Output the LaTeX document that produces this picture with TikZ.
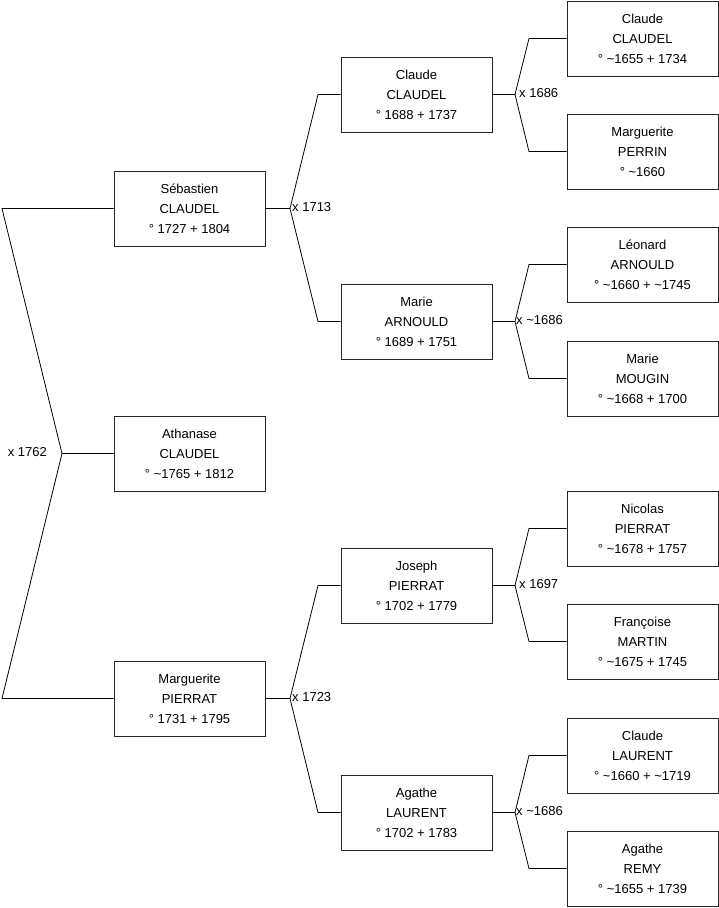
\documentclass[tikz,border=0pt]{standalone}
\usepackage{fontspec}
\setmainfont{Liberation Sans}
\newcommand{\tl}{\textasciitilde}
\begin{document}
\begin{tikzpicture}[x=1pt,y=-1pt,
  person/.style={draw=black!85, line width=0.8pt, minimum width=151pt, minimum height=75pt,
    inner sep=0pt, align=center, font=\fontsize{13}{20}\selectfont},
  link/.style={draw=black, line width=0.8pt},
  mlabel/.style={font=\fontsize{13}{15}\selectfont, inner sep=0pt}]
\useasboundingbox (0,0) rectangle (719,908);
\fill[white] (0,0) rectangle (719,908);
% column 1
\node[person] (seb) at (189.5,208.5) {Sébastien\\CLAUDEL\\° 1727 + 1804};
\node[person] (ath) at (189.5,453.5) {Athanase\\CLAUDEL\\° \tl 1765 + 1812};
\node[person] (mpi) at (189.5,698.5) {Marguerite\\PIERRAT\\° 1731 + 1795};
% column 2
\node[person] (ccl) at (416.5,94.5) {Claude\\CLAUDEL\\° 1688 + 1737};
\node[person] (mar) at (416.5,321.5) {Marie\\ARNOULD\\° 1689 + 1751};
\node[person] (jpi) at (416.5,585.5) {Joseph\\PIERRAT\\° 1702 + 1779};
\node[person] (ala) at (416.5,812.5) {Agathe\\LAURENT\\° 1702 + 1783};
% column 3
\node[person] (ccl2) at (642.5,38.5) {Claude\\CLAUDEL\\° \tl 1655 + 1734};
\node[person] (mpe) at (642.5,151.5) {Marguerite\\PERRIN\\° \tl 1660};
\node[person] (lar) at (642.5,264.5) {Léonard\\ARNOULD\\° \tl 1660 + \tl 1745};
\node[person] (mmo) at (642.5,378.5) {Marie\\MOUGIN\\° \tl 1668 + 1700};
\node[person] (npi) at (642.5,528.5) {Nicolas\\PIERRAT\\° \tl 1678 + 1757};
\node[person] (fma) at (642.5,641.5) {Françoise\\MARTIN\\° \tl 1675 + 1745};
\node[person] (cla) at (642.5,755.5) {Claude\\LAURENT\\° \tl 1660 + \tl 1719};
\node[person] (are) at (642.5,868.5) {Agathe\\REMY\\° \tl 1655 + 1739};
% root joint
\coordinate (m0) at (62,453.5);
\coordinate (a1) at (2,208.5);
\coordinate (a2) at (2,698.5);
\draw[link] (seb.west) -- (a1) -- (m0) -- (a2) -- (mpi.west);
\draw[link] (m0) -- (ath.west);
\node[mlabel, anchor=east] (l0) at (47,452.5) {x 1762};
% col1 -> col2
\coordinate (m1) at (290,208.5);
\coordinate (b1) at (318,94.5);
\coordinate (b2) at (318,321.5);
\draw[link] (seb.east) -- (m1) -- (b1) -- (ccl.west);
\draw[link] (m1) -- (b2) -- (mar.west);
\node[mlabel, anchor=west] (l1) at (292,207.5) {x 1713};
\coordinate (m2) at (290,698.5);
\coordinate (b3) at (318,585.5);
\coordinate (b4) at (318,812.5);
\draw[link] (mpi.east) -- (m2) -- (b3) -- (jpi.west);
\draw[link] (m2) -- (b4) -- (ala.west);
\node[mlabel, anchor=west] (l2) at (292,697.5) {x 1723};
% col2 -> col3
\coordinate (m3) at (515,94.5);
\coordinate (c1) at (529,38.5);
\coordinate (c2) at (529,151.5);
\draw[link] (ccl.east) -- (m3) -- (c1) -- (ccl2.west);
\draw[link] (m3) -- (c2) -- (mpe.west);
\node[mlabel, anchor=west] (l3) at (519,93.5) {x 1686};
\coordinate (m4) at (515,321.5);
\coordinate (c3) at (529,264.5);
\coordinate (c4) at (529,378.5);
\draw[link] (mar.east) -- (m4) -- (c3) -- (lar.west);
\draw[link] (m4) -- (c4) -- (mmo.west);
\node[mlabel, anchor=west] (l4) at (516,320.5) {x \tl 1686};
\coordinate (m5) at (515,585.5);
\coordinate (c5) at (529,528.5);
\coordinate (c6) at (529,641.5);
\draw[link] (jpi.east) -- (m5) -- (c5) -- (npi.west);
\draw[link] (m5) -- (c6) -- (fma.west);
\node[mlabel, anchor=west] (l5) at (519,584.5) {x 1697};
\coordinate (m6) at (515,812.5);
\coordinate (c7) at (529,755.5);
\coordinate (c8) at (529,868.5);
\draw[link] (ala.east) -- (m6) -- (c7) -- (cla.west);
\draw[link] (m6) -- (c8) -- (are.west);
\node[mlabel, anchor=west] (l6) at (516,811.5) {x \tl 1686};
\end{tikzpicture}
\end{document}
